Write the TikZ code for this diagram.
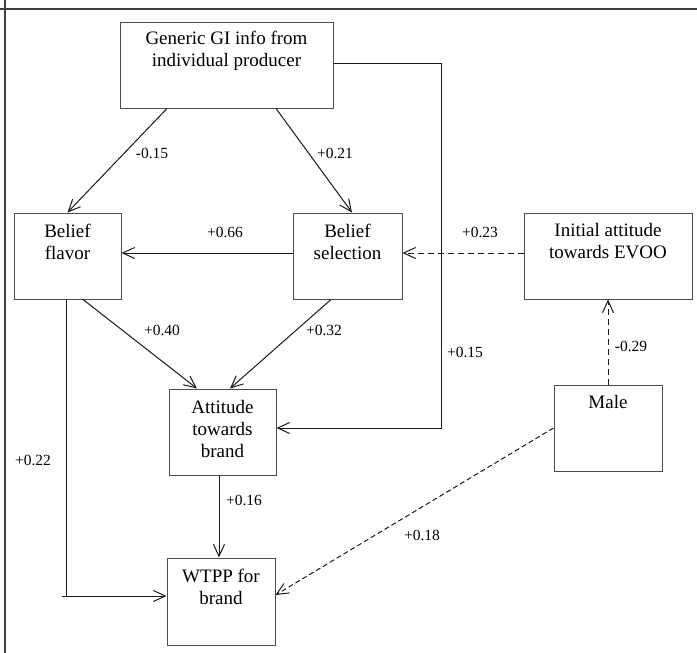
\documentclass[tikz,border=0pt]{standalone}
\usepackage{fontspec}
\setmainfont{Liberation Serif}
\usetikzlibrary{arrows.meta}
\begin{document}
\begin{tikzpicture}[x=1pt,y=-1pt,
  box/.style={draw=black!70,line width=1pt,inner sep=0pt,minimum width=#1,minimum height=86pt},
  txt/.style={align=center,inner sep=0pt,font=\fontsize{19}{22}\selectfont},
  lbl/.style={inner sep=0pt,font=\fontsize{15.5}{18}\selectfont},
  conn/.style={draw=black!90,line width=1pt,-{Straight Barb[length=12pt,width=11pt]}},
  dconn/.style={conn,dash pattern=on 6pt off 4pt},
  frame/.style={draw=black!75,line width=1.2pt}]
\useasboundingbox (0,0) rectangle (697,653);
% frame
\draw[frame] (0,9) -- (697,9);
\draw[frame] (5,0) -- (5,653);
% boxes
\node[box=213pt] (gen) at (226.5,65) {};
\node[box=107pt] (flav) at (67.5,256) {};
\node[box=109pt] (sel) at (347.5,256) {};
\node[box=168pt] (init) at (608,256) {};
\node[box=107pt] (att) at (222.5,432) {};
\node[box=108pt,minimum height=87pt] (wtpp) at (221,601.5) {};
\node[box=108pt] (male) at (608,428) {};
% texts
\node[txt] (tgen) at (226.5,51) {Generic GI info from\\individual producer};
\node[txt] (tflav) at (67.5,241.5) {Belief\\flavor};
\node[txt] (tsel) at (347.5,241.5) {Belief\\selection};
\node[txt] (tinit) at (608,241.5) {Initial attitude\\towards EVOO};
\node[txt] (tatt) at (222.5,429) {Attitude\\towards\\brand};
\node[txt] (twtpp) at (221,587) {WTPP for\\brand};
\node[txt] (tmale) at (608,402) {Male};
% coordinates
\coordinate (r) at (441,63);
\coordinate (lc) at (66,596);
\coordinate (ls) at (62,596);
% connectors
\draw[conn] ([xshift=-59.5pt]gen.south) -- (flav.north);
\draw[conn] ([xshift=49.5pt]gen.south) -- ([xshift=4.5pt]sel.north);
\draw[conn] ([yshift=3pt]sel.west) -- ([yshift=3pt]flav.east);
\draw[dconn] ([yshift=3pt]init.west) -- ([yshift=3pt]sel.east);
\draw[conn] ([xshift=15.5pt]flav.south) -- ([xshift=-25.5pt]att.north);
\draw[conn] ([xshift=-16.5pt]sel.south) -- ([xshift=7.5pt]att.north);
\draw[conn] ([yshift=2pt]gen.east) -- (r) |- ([yshift=4pt]att.east);
\draw[dconn] (male.north) -- (init.south);
\draw[conn,dash pattern=on 5pt off 3pt] (male.west) -- ([yshift=6.5pt]wtpp.east);
\draw[conn] ([xshift=-3.5pt]att.south) -- ([xshift=-2pt]wtpp.north);
\draw[draw=black!90,line width=1pt] ([xshift=-1.5pt]flav.south) -- (lc);
\draw[conn] (ls) -- ([yshift=5.5pt]wtpp.west);
% labels
\node[lbl] (l1) at (152,153) {-0.15};
\node[lbl] (l2) at (335,153) {+0.21};
\node[lbl] (l3) at (225,232) {+0.66};
\node[lbl] (l4) at (480,232) {+0.23};
\node[lbl] (l5) at (162,330) {+0.40};
\node[lbl] (l6) at (324,330) {+0.32};
\node[lbl] (l7) at (465,352) {+0.15};
\node[lbl] (l8) at (631,346) {-0.29};
\node[lbl] (l9) at (33,460) {+0.22};
\node[lbl] (l10) at (244,500) {+0.16};
\node[lbl] (l11) at (422,535) {+0.18};
\end{tikzpicture}
\end{document}
